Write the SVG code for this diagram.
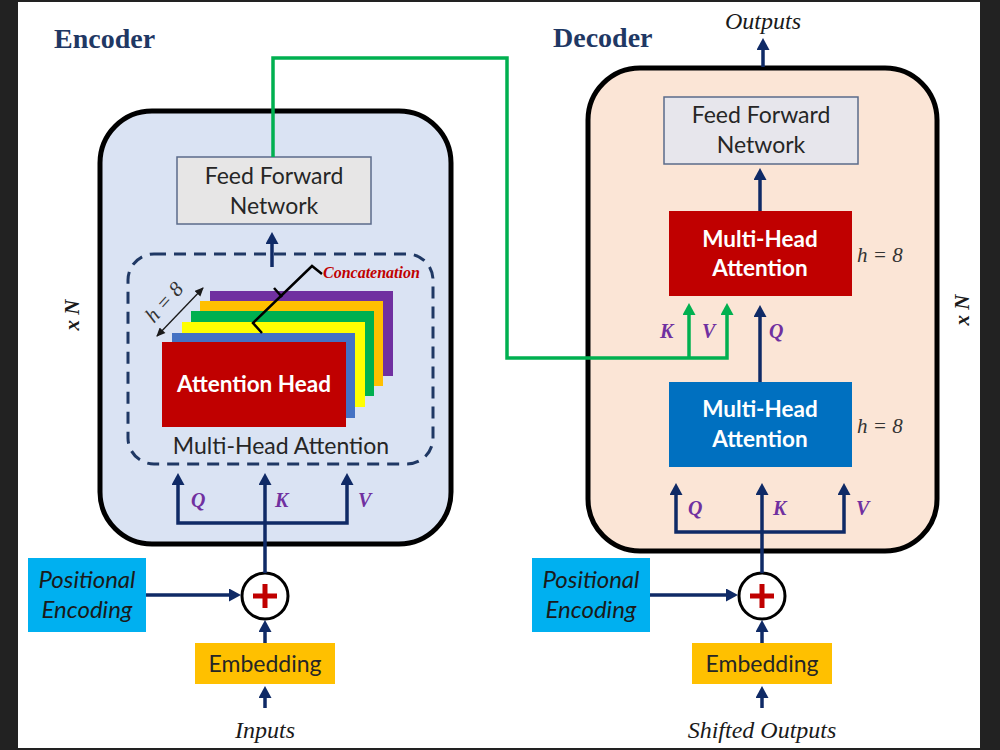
<svg xmlns="http://www.w3.org/2000/svg" width="1000" height="750" viewBox="0 0 1000 750">
<defs>
<style>
.sans{font-family:Lato,"Open Sans","Liberation Sans",sans-serif}
.serif{font-family:"Liberation Serif","Times New Roman",serif}
.box{font-size:23px;fill:#262626;text-anchor:middle}
.wb{font-size:22.5px;fill:#ffffff;font-weight:bold;text-anchor:middle}
.pe{font-size:24px;fill:#1a1a1a;font-style:italic;text-anchor:middle}
.lbl{font-size:20px;fill:#7030a0;font-style:italic;font-weight:bold}
.io{font-size:24px;fill:#1a1a1a;font-style:italic;text-anchor:middle}
.title{font-size:28px;fill:#1f3864;font-weight:bold}
.h8{font-size:21px;fill:#333333;font-style:italic}
.arr{fill:none;stroke:#0f2a66;stroke-width:3.5}
.grn{fill:none;stroke:#00b050;stroke-width:3.5}
</style>
<marker id="ah" markerUnits="userSpaceOnUse" markerWidth="14" markerHeight="14" refX="2" refY="6.5" orient="auto"><path d="M0,0 L12,6.5 L0,13 z" fill="#0f2a66"/></marker>
<marker id="ahg" markerUnits="userSpaceOnUse" markerWidth="14" markerHeight="14" refX="2" refY="6.5" orient="auto"><path d="M0,0 L12,6.5 L0,13 z" fill="#00b050"/></marker>
<marker id="ahs" markerUnits="userSpaceOnUse" markerWidth="10" markerHeight="10" refX="8" refY="4" orient="auto"><path d="M0,0 L9,4 L0,8 z" fill="#1a1a1a"/></marker>
<marker id="ahs0" markerUnits="userSpaceOnUse" markerWidth="10" markerHeight="10" refX="1" refY="4" orient="auto"><path d="M9,0 L0,4 L9,8 z" fill="#1a1a1a"/></marker>
</defs>

<rect x="0" y="0" width="1000" height="750" fill="#222222"/>
<rect x="18" y="2" width="962" height="746" fill="#ffffff"/>

<text class="serif title" x="54" y="48">Encoder</text>
<text class="serif title" x="553" y="47">Decoder</text>

<g id="encoder">
<rect x="100" y="111" width="351" height="433" rx="52" fill="#dae3f3" stroke="#000" stroke-width="5"/>
<text class="serif" x="72" y="315" transform="rotate(-90 72 315)" font-size="21" font-style="italic" font-weight="bold" fill="#1a1a1a" text-anchor="middle" dominant-baseline="central">x N</text>
</g>

<g id="decoder">
<rect x="588" y="68" width="349" height="483" rx="52" fill="#fbe5d6" stroke="#000" stroke-width="5"/>
<text class="serif" x="962" y="310" transform="rotate(-90 962 310)" font-size="21" font-style="italic" font-weight="bold" fill="#1a1a1a" text-anchor="middle" dominant-baseline="central">x N</text>
</g>

<g id="enc-ffn">
<rect x="177" y="157" width="194" height="67" fill="#e7e6e6" stroke="#5b6b8a" stroke-width="1.5"/>
<text class="sans box" x="274" y="184">Feed Forward</text>
<text class="sans box" x="274" y="214">Network</text>
</g>

<g id="enc-mha">
<rect x="128" y="254" width="305" height="210" rx="26" fill="none" stroke="#1f3864" stroke-width="3" stroke-dasharray="12 8"/>
<rect x="210" y="291" width="183" height="85" fill="#7030a0"/>
<rect x="200" y="301" width="183" height="85" fill="#ffc000"/>
<rect x="191" y="311" width="183" height="85" fill="#00b050"/>
<rect x="182" y="322" width="183" height="85" fill="#ffff00"/>
<rect x="172" y="333" width="183" height="85" fill="#4472c4"/>
<rect x="162" y="342" width="184" height="85" fill="#c00000"/>
<text class="sans wb" x="254" y="392">Attention Head</text>
<text class="sans box" x="281" y="454">Multi-Head Attention</text>
<polyline points="262,333 253,323 312,266 322,274" fill="none" stroke="#000" stroke-width="2.5"/>
<line x1="274" y1="288" x2="282" y2="297" stroke="#000" stroke-width="2.5"/>
<text class="serif" x="323" y="278" font-size="16" font-style="italic" font-weight="bold" fill="#c00000">Concatenation</text>
<line x1="157" y1="336" x2="203" y2="288" stroke="#1a1a1a" stroke-width="1.3" marker-start="url(#ahs0)" marker-end="url(#ahs)"/>
<text class="serif h8" x="164" y="302" transform="rotate(-48 164 302)" text-anchor="middle" dominant-baseline="central">h = 8</text>
</g>

<g id="enc-pe">
<rect x="28" y="558" width="118" height="74" fill="#00b0f0"/>
<text class="sans pe" x="87" y="588">Positional</text>
<text class="sans pe" x="87" y="618">Encoding</text>
</g>
<g id="enc-add">
<circle cx="265" cy="596" r="23" fill="#ffffff" stroke="#000" stroke-width="3"/>
<path d="M265,584 V608 M253,596 H277" stroke="#c00000" stroke-width="5" fill="none"/>
</g>
<g id="enc-emb">
<rect x="195" y="643" width="140" height="41" fill="#ffc000"/>
<text class="sans box" x="265" y="672">Embedding</text>
</g>
<text class="serif io" x="265" y="738">Inputs</text>

<g id="dec-ffn">
<rect x="664" y="97" width="194" height="67" fill="#e7e6ec" stroke="#5b6b8a" stroke-width="1.5"/>
<text class="sans box" x="761" y="123">Feed Forward</text>
<text class="sans box" x="761" y="153">Network</text>
</g>
<g id="dec-mha2">
<rect x="669" y="211" width="183" height="85" fill="#c00000"/>
<text class="sans wb" x="760" y="247">Multi-Head</text>
<text class="sans wb" x="760" y="276">Attention</text>
<text class="serif h8" x="857" y="262">h = 8</text>
</g>
<g id="dec-mha1">
<rect x="669" y="382" width="183" height="85" fill="#0070c0"/>
<text class="sans wb" x="760" y="417">Multi-Head</text>
<text class="sans wb" x="760" y="447">Attention</text>
<text class="serif h8" x="857" y="433">h = 8</text>
</g>
<g id="dec-pe">
<rect x="532" y="558" width="118" height="74" fill="#00b0f0"/>
<text class="sans pe" x="591" y="588">Positional</text>
<text class="sans pe" x="591" y="618">Encoding</text>
</g>
<g id="dec-add">
<circle cx="762" cy="596" r="23" fill="#ffffff" stroke="#000" stroke-width="3"/>
<path d="M762,584 V608 M750,596 H774" stroke="#c00000" stroke-width="5" fill="none"/>
</g>
<g id="dec-emb">
<rect x="692" y="643" width="140" height="41" fill="#ffc000"/>
<text class="sans box" x="762" y="672">Embedding</text>
</g>
<text class="serif io" x="762" y="738">Shifted Outputs</text>
<text class="serif io" x="763" y="29">Outputs</text>

<g id="labels">
<text class="serif lbl" x="191" y="507">Q</text>
<text class="serif lbl" x="275" y="507">K</text>
<text class="serif lbl" x="358" y="507">V</text>
<text class="serif lbl" x="688" y="515">Q</text>
<text class="serif lbl" x="773" y="515">K</text>
<text class="serif lbl" x="856" y="515">V</text>
<text class="serif lbl" x="660" y="338">K</text>
<text class="serif lbl" x="702" y="338">V</text>
<text class="serif lbl" x="769" y="338">Q</text>
</g>

<g id="connectors">
<line class="arr" x1="265" y1="708" x2="265" y2="696" marker-end="url(#ah)"/>
<line class="arr" x1="265" y1="643" x2="265" y2="630" marker-end="url(#ah)"/>
<line class="arr" x1="146" y1="595" x2="231" y2="595" marker-end="url(#ah)"/>
<line class="arr" x1="265" y1="573" x2="265" y2="483" marker-end="url(#ah)"/>
<path class="arr" d="M265,523 H178 V483" marker-end="url(#ah)"/>
<path class="arr" d="M265,523 H347 V483" marker-end="url(#ah)"/>
<line class="arr" x1="272" y1="267" x2="272" y2="242" marker-end="url(#ah)"/>
<path class="grn" d="M273,157 V58 H507 V358 H727 V313" marker-end="url(#ahg)"/>
<path class="grn" d="M689,358 V313" marker-end="url(#ahg)"/>
<line class="arr" x1="762" y1="708" x2="762" y2="696" marker-end="url(#ah)"/>
<line class="arr" x1="762" y1="643" x2="762" y2="630" marker-end="url(#ah)"/>
<line class="arr" x1="650" y1="595" x2="728" y2="595" marker-end="url(#ah)"/>
<line class="arr" x1="762" y1="573" x2="762" y2="493" marker-end="url(#ah)"/>
<path class="arr" d="M762,532 H676 V493" marker-end="url(#ah)"/>
<path class="arr" d="M762,532 H844 V493" marker-end="url(#ah)"/>
<line class="arr" x1="760" y1="382" x2="760" y2="315" marker-end="url(#ah)"/>
<line class="arr" x1="760" y1="211" x2="760" y2="178" marker-end="url(#ah)"/>
<line class="arr" x1="763" y1="67" x2="763" y2="48" marker-end="url(#ah)"/>
</g>
</svg>
